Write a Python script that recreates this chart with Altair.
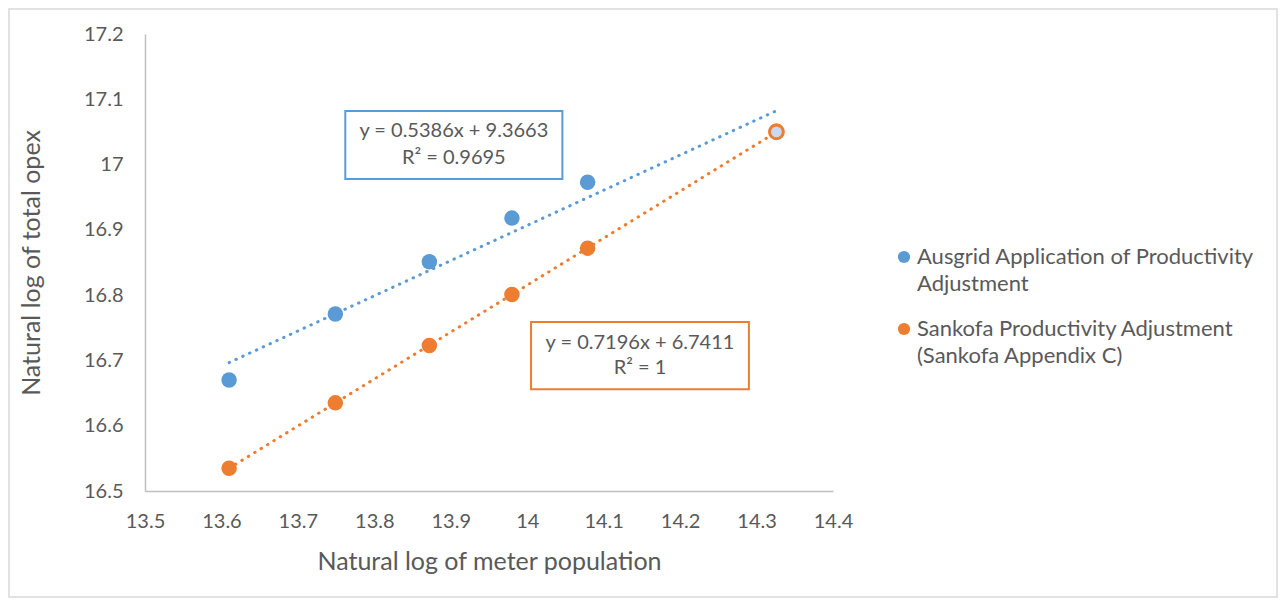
import altair as alt
import pandas as pd

# ---- data ----
x_vals = [13.61, 13.749, 13.872, 13.98, 14.079, 14.326]
ausgrid = [16.670, 16.771, 16.851, 16.918, 16.973, 17.051]
sankofa = [16.535, 16.635, 16.723, 16.801, 16.872, 17.050]
series_names = [
    "Ausgrid Application of Productivity Adjustment",
    "Sankofa Productivity Adjustment (Sankofa Appendix C)",
]
legend_lines = [
    ["Ausgrid Application of Productivity", "Adjustment"],
    ["Sankofa Productivity Adjustment", "(Sankofa Appendix C)"],
]
eq_ausgrid = ["y = 0.5386x + 9.3663", "R² = 0.9695"]
eq_sankofa = ["y = 0.7196x + 6.7411", "R² = 1"]
x_ticks = [13.5, 13.6, 13.7, 13.8, 13.9, 14.0, 14.1, 14.2, 14.3, 14.4]
y_ticks = [16.5, 16.6, 16.7, 16.8, 16.9, 17.0, 17.1, 17.2]
x_title = "Natural log of meter population"
y_title = "Natural log of total opex"

BLUE = "#5B9BD5"
ORANGE = "#ED7D31"
TXT = "#595959"
FONT = "Lato"

df = pd.DataFrame({
    "x": x_vals * 2,
    "y": ausgrid + sankofa,
    "series": [series_names[0]] * len(x_vals) + [series_names[1]] * len(x_vals),
})
ann1 = pd.DataFrame({"text": ["\n".join(eq_ausgrid)]})
ann2 = pd.DataFrame({"text": ["\n".join(eq_sankofa)]})
one = pd.DataFrame({"k": [0]})

xs = alt.Scale(domain=[13.5, 14.4], nice=False, zero=False)
ys = alt.Scale(domain=[16.5, 17.2], nice=False, zero=False)

label_expr = (
    f"datum.label == '{series_names[0]}' ? {legend_lines[0]!r} : {legend_lines[1]!r}"
).replace('"', "'")

X = alt.X("x:Q", scale=xs, title=x_title,
          axis=alt.Axis(values=x_ticks, format=".3~r", labelPadding=20,
                        titlePadding=18, labelFlush=False))
Y = alt.Y("y:Q", scale=ys, title=y_title,
          axis=alt.Axis(values=y_ticks, format=".3~r", labelPadding=22,
                        titlePadding=39, labelFlush=False))
legend = alt.Legend(
    title=None, orient="none", legendX=748, legendY=212,
    labelExpr=label_expr, labelFont=FONT, labelFontSize=22, labelColor=TXT,
    labelLimit=500, symbolType="circle", symbolSize=150, symbolStrokeWidth=0,
    symbolOpacity=1, rowPadding=23, padding=0, labelBaseline="middle", labelOffset=2,
)
color = alt.Color("series:N", scale=alt.Scale(domain=series_names, range=[BLUE, ORANGE]),
                  legend=legend)

base = alt.Chart(df)

border = alt.Chart(one).mark_rect(fillOpacity=0, stroke="#d9d9d9", strokeWidth=1.5).encode(
    x=alt.value(-136), x2=alt.value(1132), y=alt.value(-25), y2=alt.value(563)
)

trend = base.transform_regression("x", "y", groupby=["series"]).mark_line(
    strokeDash=[0.5, 7], strokeCap="round", strokeWidth=3
).encode(x=X, y=Y, color=color)

points = base.mark_circle(size=240, opacity=1).encode(x=X, y=Y, color=color)

last_pt = base.transform_filter(
    f"datum.series == '{series_names[1]}' && datum.x > 14.3"
).mark_circle(size=190, opacity=1, fill="#c9daf0", stroke=ORANGE, strokeWidth=3).encode(x=X, y=Y)

box1 = alt.Chart(one).mark_rect(fill="white", stroke=BLUE, strokeWidth=2).encode(
    x=alt.datum(13.762), x2=alt.datum(14.046), y=alt.datum(17.082), y2=alt.datum(16.978)
)
text1 = alt.Chart(ann1).mark_text(font=FONT, fontSize=20, color=TXT, lineBreak="\n", lineHeight=27).encode(
    x=alt.datum(13.904), y=alt.datum(17.051), text="text:N"
)
box2 = alt.Chart(one).mark_rect(fill="white", stroke=ORANGE, strokeWidth=2).encode(
    x=alt.datum(14.005), x2=alt.datum(14.290), y=alt.datum(16.759), y2=alt.datum(16.656)
)
text2 = alt.Chart(ann2).mark_text(font=FONT, fontSize=20, color=TXT, lineBreak="\n", lineHeight=25).encode(
    x=alt.datum(14.1475), y=alt.datum(16.727), text="text:N"
)

chart = alt.layer(border, trend, points, last_pt, box1, text1, box2, text2).properties(
    width=688, height=457,
    padding={"left": 137, "top": 26, "right": 445, "bottom": 108},
    autosize="none",
).configure(
    style={"guide-label": {"lineHeight": 27}},
    view={"stroke": None},
    axis={
        "grid": False, "ticks": False, "domainColor": "#bfbfbf", "domainWidth": 1.5,
        "labelFont": FONT, "labelFontSize": 20, "labelColor": TXT,
        "titleFont": FONT, "titleFontSize": 25, "titleColor": TXT, "titleFontWeight": "normal",
    },
)

chart.save("out.html", embed_options={"renderer": "svg", "actions": False})
